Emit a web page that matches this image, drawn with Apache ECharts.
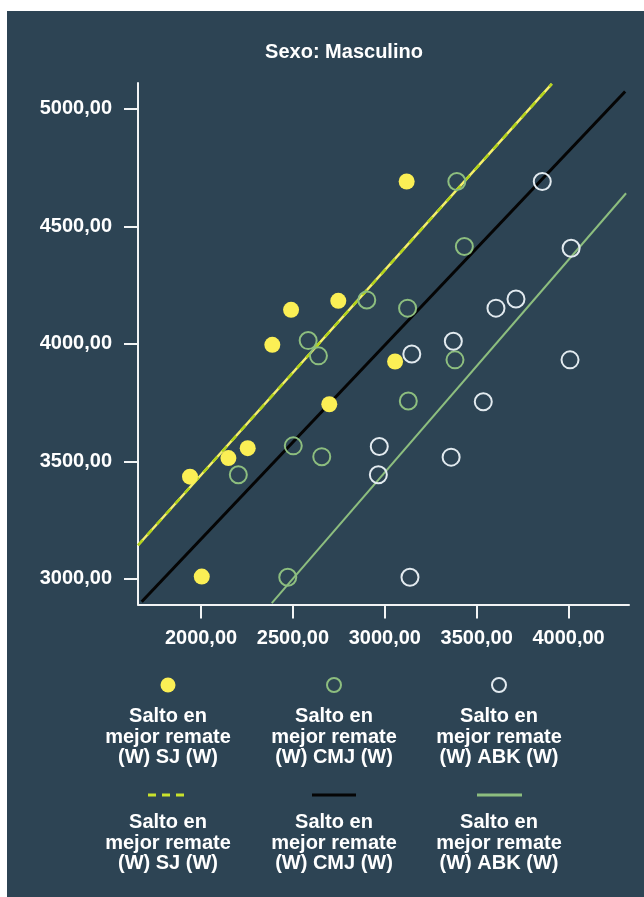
<!DOCTYPE html>
<html>
<head>
<meta charset="utf-8">
<script src="https://cdn.jsdelivr.net/npm/echarts@6/dist/echarts.min.js"></script>
<style>
  html, body { margin: 0; padding: 0; background: #ffffff; }
  #wrap { position: relative; width: 644px; height: 897px; background: #ffffff; overflow: hidden; }
  #chart { position: absolute; left: 7px; top: 11px; width: 637px; height: 886px; background: #2d4454; }
</style>
</head>
<body>
<div id="wrap"><div id="chart"></div></div>
<script>
// Salto en mejor remate (W) vs SJ / CMJ / ABK (W), Sexo: Masculino
const sjPoints = [
  [1940, 3435], [2004, 3010], [2149, 3514], [2254, 3556], [2388, 3996],
  [2490, 4145], [2698, 3743], [2747, 4183], [3056, 3925], [3119, 4691]
];
const cmjPoints = [
  [2203, 3443], [2472, 3007], [2502, 3566], [2583, 4014], [2639, 3949],
  [2657, 3520], [2902, 4187], [3124, 4152], [3128, 3757], [3382, 3932],
  [3392, 4691], [3433, 4414]
];
const abkPoints = [
  [2965, 3443], [2970, 3563], [3137, 3007], [3147, 3957], [3361, 3518],
  [3373, 4011], [3536, 3754], [3605, 4152], [3714, 4191], [3857, 4691],
  [4008, 3932], [4014, 4407]
];
// fit lines: end points of each regression line inside the plot range
const sjFit = [[1657, 3143], [3909, 5106]];
const cmjFit = [[1677, 2903], [4308, 5074]];
const abkFit = [[2385, 2897], [4313, 4641]];

const xTicks = [2000, 2500, 3000, 3500, 4000];
const yTicks = [3000, 3500, 4000, 4500, 5000];
const xRange = [1657, 4329];
const yRange = [2891, 5110];

const legendName = ['Salto en', 'mejor remate'];
const legendTail = ['(W) SJ (W)', '(W) CMJ (W)', '(W) ABK (W)'];

const fmt = v => v.toFixed(2).replace('.', ',');
const WHITE = '#ffffff';
const FONT = 'Liberation Sans, Arial, sans-serif';
const YELLOW = '#fbef55';
const GREEN = '#8dbe7f';
const PALE = '#e2eaef';

const chart = echarts.init(document.getElementById('chart'), null, { renderer: 'canvas' });

function axisCommon(ticks, margin) {
  return {
    type: 'value',
    axisLine: { show: true, lineStyle: { color: '#f2f4f5', width: 2 } },
    axisTick: { show: true, customValues: ticks, length: 14, lineStyle: { color: '#f2f4f5', width: 2 } },
    axisLabel: {
      customValues: ticks, formatter: fmt, color: WHITE, margin,
      fontFamily: FONT, fontWeight: 'bold', fontSize: 20
    },
    splitLine: { show: false }
  };
}

// legend block built from text + small shapes (offsets are relative to the chart div)
const OX = 7, OY = 11;
const cols = [168, 334, 499];
const graphics = [];
function textBlock(cx, cy, tail) {
  graphics.push({
    type: 'text', x: cx - OX, y: cy - OY,
    style: {
      text: legendName.concat([tail]).join('\n'),
      fill: WHITE, font: 'bold 20px ' + FONT,
      align: 'center', verticalAlign: 'middle', lineHeight: 20.5
    }
  });
}
// row 1: point symbols
graphics.push({ type: 'circle', shape: { cx: cols[0] - OX, cy: 685 - OY, r: 7.5 }, style: { fill: YELLOW } });
graphics.push({ type: 'circle', shape: { cx: cols[1] - OX, cy: 685 - OY, r: 7 }, style: { fill: 'none', stroke: GREEN, lineWidth: 2 } });
graphics.push({ type: 'circle', shape: { cx: cols[2] - OX, cy: 685 - OY, r: 7 }, style: { fill: 'none', stroke: PALE, lineWidth: 2 } });
cols.forEach((c, i) => textBlock(c, 737, legendTail[i]));
// row 2: line symbols
graphics.push({ type: 'line', shape: { x1: 148 - OX, y1: 795 - OY, x2: 190 - OX, y2: 795 - OY }, style: { stroke: '#c9e22c', lineWidth: 3, lineDash: [8, 6] } });
graphics.push({ type: 'line', shape: { x1: 312 - OX, y1: 795 - OY, x2: 356 - OX, y2: 795 - OY }, style: { stroke: '#050505', lineWidth: 3 } });
graphics.push({ type: 'line', shape: { x1: 477 - OX, y1: 795 - OY, x2: 522 - OX, y2: 795 - OY }, style: { stroke: GREEN, lineWidth: 3 } });
cols.forEach((c, i) => textBlock(c, 843, legendTail[i]));

const lineSeries = (name, data, style, z) => ({
  name, type: 'line', data, showSymbol: false, symbol: 'none',
  lineStyle: Object.assign({ opacity: 1 }, style), z, silent: true
});

chart.setOption({
  animation: false,
  backgroundColor: 'transparent',
  title: {
    text: 'Sexo: Masculino', left: 339 - OX, top: 47 - OY, textAlign: 'center', textVerticalAlign: 'middle',
    textStyle: { color: WHITE, fontFamily: FONT, fontWeight: 'bold', fontSize: 20 }
  },
  grid: { left: 138 - OX, top: 83 - OY, right: 15, bottom: 897 - 604.5, containLabel: false },
  xAxis: Object.assign(axisCommon(xTicks, 24), { min: xRange[0], max: xRange[1] }),
  yAxis: Object.assign(axisCommon(yTicks, 26), { min: yRange[0], max: yRange[1] }),
  graphic: graphics,
  series: [
    lineSeries('ABK fit', abkFit, { color: GREEN, width: 2 }, 2),
    lineSeries('CMJ fit', cmjFit, { color: '#050505', width: 3 }, 2),
    lineSeries('SJ fit', sjFit, { color: '#f6f06a', width: 2.5 }, 2),
    lineSeries('SJ fit dash', sjFit, { color: '#b4d41c', width: 2.5, type: [7, 7] }, 2),
    {
      name: 'SJ', type: 'scatter', data: sjPoints, symbol: 'circle', symbolSize: 16, z: 4,
      itemStyle: { color: YELLOW, opacity: 1 }
    },
    {
      name: 'CMJ', type: 'scatter', data: cmjPoints, symbol: 'circle', symbolSize: 17, z: 4,
      itemStyle: { color: 'rgba(0,0,0,0)', borderColor: GREEN, borderWidth: 2, opacity: 1 }
    },
    {
      name: 'ABK', type: 'scatter', data: abkPoints, symbol: 'circle', symbolSize: 17, z: 4,
      itemStyle: { color: 'rgba(0,0,0,0)', borderColor: PALE, borderWidth: 2, opacity: 1 }
    }
  ]
});
</script>
</body>
</html>
